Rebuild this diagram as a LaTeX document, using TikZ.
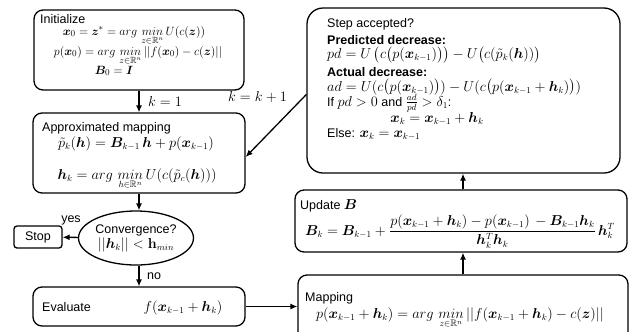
\documentclass[tikz,border=0pt]{standalone}
\usepackage[no-math]{fontspec}
\setmainfont{Liberation Sans}
\usepackage{amsmath,amssymb,bm}
\usetikzlibrary{arrows.meta,shapes.geometric}
\tikzset{
  box/.style={draw, line width=1.3bp, rounded corners=9bp, inner sep=0pt},
  arr/.style={-{Latex[length=7bp,width=6bp]}, line width=1.3bp},
  txt/.style={inner sep=0pt, anchor=base},
  ltxt/.style={inner sep=0pt, anchor=base west},
}
\newcommand{\amin}[1]{arg\,\mathop{min}\limits_{#1}}
\newcommand{\mm}[1]{{\fontsize{13.5bp}{15bp}\selectfont$#1$}}
\newcommand{\ms}[1]{{\fontsize{12.8bp}{14bp}\selectfont$#1$}}
\begin{document}
\begin{tikzpicture}[x=1bp,y=-1bp,font=\fontsize{12.5bp}{14bp}\selectfont]
\useasboundingbox (0,0) rectangle (629,331);
\clip (0,0) rectangle (629,331);
% boxes
\node[box, minimum width=210bp, minimum height=80bp] (init) at (139,50) {};
\node[box, minimum width=212bp, minimum height=80bp] (approx) at (139,153) {};
\node[draw, line width=1.3bp, ellipse, minimum width=108bp, minimum height=54bp, inner sep=0pt, align=center] (conv) at (136,238) {Convergence?\\[1bp] \mm{||\bm{h}_k|| < \mathbf{h}_{min}}};
\node[box, rounded corners=3bp, minimum width=48bp, minimum height=22bp] (stop) at (38,237) {Stop};
\node[box, minimum width=212bp, minimum height=39bp] (eval) at (139,306.5) {};
\node[box, rounded corners=16bp, minimum width=313bp, minimum height=165bp] (step) at (463.5,90.5) {};
\node[box, minimum width=332bp, minimum height=62bp] (update) at (461,221) {};
\node[box, minimum width=330bp, minimum height=70bp] (mapping) at (463,310) {};
% init texts
\node[ltxt] (t1) at (40,23) {Initialize};
\node[txt] (t2) at (134,35) {\ms{\bm{x}_0 = \bm{z}^* = \amin{z\in\mathbb{R}^n} U(c(\bm{z}))}};
\node[txt] (t3) at (138,55) {\ms{p(\bm{x}_0) = \amin{z\in\mathbb{R}^n} ||f(\bm{x}_0) - c(\bm{z})||}};
\node[txt] (t4) at (114,74) {\ms{\bm{B}_0 = \bm{I}}};
% approx texts
\node[ltxt] (a1) at (42,131) {Approximated mapping};
\node[txt] (a2) at (136,147) {\mm{\tilde{p}_k(\bm{h}) = \bm{B}_{k-1}\,\bm{h} + p(\bm{x}_{k-1})}};
\node[txt] (a3) at (137,179) {\mm{\bm{h}_k = \amin{h\in\mathbb{R}^n} U(c(\tilde{p}_c(\bm{h})))}};
% evaluate texts
\node[ltxt] (e1) at (42,311.5) {Evaluate};
\node[txt] (e2) at (183,311.5) {\mm{f(\bm{x}_{k-1} + \bm{h}_k)}};
% step texts
\node[ltxt] (s1) at (327,27) {Step accepted?};
\node[ltxt] (s2) at (327,44) {\textbf{Predicted decrease:}};
\node[ltxt] (s3) at (327,58.5) {\mm{pd = U\left(c\big(p(\bm{x}_{k-1})\big)\right) - U\big(c(\tilde{p}_k(\bm{h}))\big)}};
\node[ltxt] (s4) at (327,76) {\textbf{Actual decrease:}};
\node[ltxt] (s5) at (327,91) {\mm{ad = U(c\big(p(\bm{x}_{k-1})\big)) - U(c\big(p(\bm{x}_{k-1} + \bm{h}_k)\big))}};
\node[ltxt] (s6) at (327,106) {If \mm{pd > 0} and \mm{\frac{ad}{pd} > \delta_1}:};
\node[txt] (s7) at (437,122) {\mm{\bm{x}_k = \bm{x}_{k-1} + \bm{h}_k}};
\node[ltxt] (s8) at (327,137) {Else: \mm{\bm{x}_k = \bm{x}_{k-1}}};
% update texts
\node[ltxt] (u1) at (300,209.5) {Update \mm{\bm{B}}};
\node[txt] (u2) at (460,235) {\mm{\bm{B}_k = \bm{B}_{k-1} + \dfrac{p(\bm{x}_{k-1} + \bm{h}_k) - p(\bm{x}_{k-1})\, - \bm{B}_{k-1}\bm{h}_k}{\bm{h}_k^T\bm{h}_k}\,\bm{h}_k^T}};
% mapping texts
\node[ltxt] (m1) at (305,301.5) {Mapping};
\node[txt] (m2) at (460,318) {\mm{p(\bm{x}_{k-1} + \bm{h}_k) = \amin{z\in\mathbb{R}^n} ||f(\bm{x}_{k-1} + \bm{h}_k) - c(\bm{z})||}};
% connectors
\draw[arr] (init.south) -- (approx.north);
\draw[arr] (approx.south) -- (approx.south |- conv.north);
\draw[arr] (conv) -- (stop);
\draw[arr] (conv.south -| eval.north) -- (eval.north);
\draw[arr] (eval.east) -- (eval.east -| mapping.west);
\draw[arr] (mapping.north) -- (mapping.north |- update.south);
\draw[arr] (update.north -| mapping.north) -- (step.south -| mapping.north);
\draw[arr] ([yshift=-4bp]step.west) -- ([yshift=-4bp]approx.east);
% labels
\node[ltxt] (k1) at (148,106) {\mm{k = 1}};
\node[ltxt] (kk) at (228,101) {\mm{k = k + 1}};
\node[txt] (yes) at (71,222) {yes};
\node[ltxt] (no) at (147,279) {no};
\end{tikzpicture}
\end{document}
